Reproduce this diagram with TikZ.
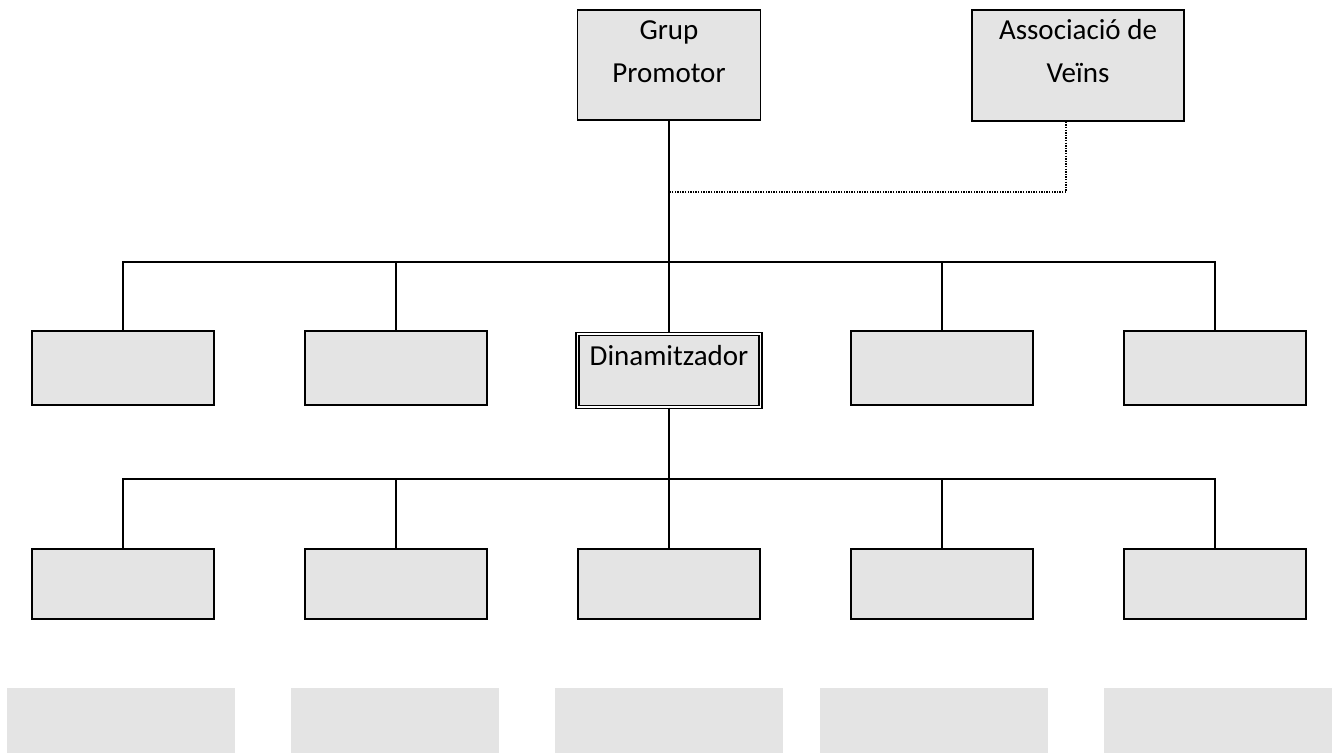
\documentclass[tikz,border=0pt]{standalone}
\usepackage{fontspec}
\setmainfont{Carlito}
\usetikzlibrary{positioning}
\definecolor{boxgray}{RGB}{228,228,228}
\tikzset{
  unit/.style={draw, line width=0.85pt, fill=boxgray, inner sep=0pt, minimum width=91pt, minimum height=37pt},
  lowunit/.style={unit, minimum height=35pt},
  dynunit/.style={unit, double, line width=0.65pt, double distance=0.9pt, minimum width=91.5pt, minimum height=36.5pt},
  ghost/.style={fill=boxgray, inner sep=0pt, minimum height=32.5pt},
  lbl/.style={inner sep=0pt, align=center, font=\fontsize{14.5}{21.5}\selectfont},
  link/.style={line width=0.7pt},
  dotlink/.style={line width=1.1pt, dash pattern=on 0.7pt off 0.6pt},
}

\begin{document}
\begin{tikzpicture}[x=0.5pt, y=-0.5pt]
\useasboundingbox (0,0) rectangle (1338,753);

% top level
\node[unit, minimum width=91.5pt, minimum height=55pt] (gp) at (669,65) {};
\node[unit, minimum width=106pt, minimum height=55.5pt] (av) at (1078,65.5) {};
\node[lbl, anchor=base] (gptext) at ([yshift=-36.5pt]gp.north) {Grup\\Promotor};
\node[lbl, anchor=base] (avtext) at ([yshift=-36.5pt]av.north) {Associació de\\Veïns};

% second level
\foreach \i/\x in {1/123, 2/396, 4/942, 5/1215}
  \node[unit] (r\i) at (\x,368) {};
\node[dynunit] (din) at (669,370.5) {};
\node[lbl, anchor=base] (dintext) at ([yshift=-16pt]din.north) {Dinamitzador};

% third level
\foreach \i/\x in {1/123, 2/396, 3/669, 4/942, 5/1215}
  \node[lowunit] (c\i) at (\x,584) {};

% bottom row
\foreach \i/\x/\w in {1/121/114, 2/395/104, 3/669/114, 4/934/114, 5/1218/114}
  \node[ghost, minimum width=\w pt] (g\i) at (\x,720.5) {};

% connectors
\coordinate (bus1) at (669,262);
\coordinate (bus2) at (669,479);
\coordinate (dotjoin) at (669,192);
\draw[link] (gp.south) -- (din.north);
\draw[link] (r1.north) |- (bus1) -| (r5.north);
\foreach \i in {2,4}
  \draw[link] (r\i.north) -- (r\i.north |- bus1);
\draw[link] (din.south) -- (c3.north);
\draw[link] (c1.north) |- (bus2) -| (c5.north);
\foreach \i in {2,4}
  \draw[link] (c\i.north) -- (c\i.north |- bus2);
\draw[dotlink] ([xshift=-6pt]av.south) |- (dotjoin);
\end{tikzpicture}
\end{document}
